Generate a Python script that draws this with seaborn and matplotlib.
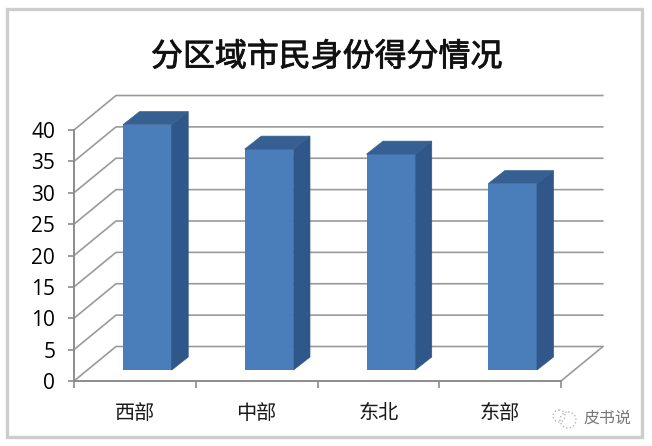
import seaborn as sns
import matplotlib.pyplot as plt
import matplotlib.patheffects as pe
from matplotlib.patches import Circle, Polygon, Rectangle

# values
regions = ['西部', '中部', '东北', '东部']
scores = [39.1, 35.2, 34.4, 29.7]
y_ticks = [0, 5, 10, 15, 20, 25, 30, 35, 40]
title = '分区域市民身份得分情况'

W, H = 652, 446
GRID = '#9a9a9a'
AXIS = '#8c8c8c'
FRONT = '#4a7ebb'
SIDE = '#30578a'
TOP = '#376092'

sns.set_theme(style='white')
plt.rcParams['font.family'] = ['Noto Sans CJK SC', 'DejaVu Sans']


def box(left, right, top, bottom):
    # pixel box of the picture -> figure fraction
    return [left / W, 1 - bottom / H, (right - left) / W, (bottom - top) / H]


fig = plt.figure(figsize=(W / 100, H / 100), dpi=100, facecolor='white')

# frame and watermark, in picture pixels
deco = fig.add_axes([0, 0, 1, 1])
deco.set_xlim(0, W)
deco.set_ylim(H, 0)
deco.axis('off')
deco.add_patch(Rectangle((7, 9), 635, 428, fill=False, ec='#cdcdcd', lw=2.4))
# regular is too thin and bold too heavy, so thicken regular a bit
deco.text(327, 57, title, ha='center', va='center', fontsize=23, color='#111111',
          path_effects=[pe.withStroke(linewidth=0.6, foreground='#111111')])
deco.add_patch(Circle((568, 420), 8, fill=False, ec='#b5b5b5', lw=1, ls=':'))
deco.add_patch(Circle((559, 416), 6, fill=False, ec='#b5b5b5', lw=1, ls=':'))
deco.text(608, 418, '皮书说', ha='center', va='center', fontsize=11.5,
          color='#777777', style='italic')

# front plane of the chart, floor edge and value axis live here
ax = fig.add_axes(box(74, 561, 130, 381))
ax.patch.set_alpha(0)
ax.set_xlim(-0.5, 3.5)
ax.set_ylim(0, 40)

# depth of the walls, in data units
wall_dx = 42 / 121.75
wall_dy = 34.5 / 6.275

for v in y_ticks:
    ax.plot([-0.5, -0.5 + wall_dx, 3.5 + wall_dx],
            [v, v + wall_dy, v + wall_dy],
            color=GRID, lw=1.2, clip_on=False, zorder=1)
ax.plot([3.5, 3.5 + wall_dx], [0, wall_dy], color=GRID, lw=1.2, clip_on=False, zorder=1)

sns.despine(ax=ax, top=True, right=True)
for side in ['left', 'bottom']:
    ax.spines[side].set_color(AXIS)
    ax.spines[side].set_linewidth(1.4)

ax.set_yticks(y_ticks)
ax.set_yticklabels(y_ticks, fontsize=15, family=['Open Sans', 'DejaVu Sans'], color='#000000')
ax.tick_params(axis='y', left=True, length=4.5, width=1.2, color=AXIS, pad=9)
ax.set_xticks(range(len(regions)))
ax.set_xticklabels(regions, fontsize=14.5, color='#1a1a1a')
ax.set_xticks([-0.5, 0.5, 1.5, 2.5, 3.5], minor=True)
ax.tick_params(axis='x', which='major', bottom=False, pad=10)
ax.tick_params(axis='x', which='minor', bottom=True, length=5, width=1.2, color=AXIS)

# bars stand a little behind the front plane, same scales
bar_ax = fig.add_axes(box(74 + 12.5, 561 + 12.5, 130 - 11, 381 - 11))
bar_ax.patch.set_alpha(0)
sns.barplot(x=regions, y=scores, color=FRONT, saturation=1, width=0.4, linewidth=0, ax=bar_ax)
bar_ax.set_xlim(-0.5, 3.5)
bar_ax.set_ylim(0, 40)
bar_ax.axis('off')

depth_x = 16.5 / 121.75
depth_y = 13 / 6.275
for bar in list(bar_ax.patches):
    x0 = bar.get_x()
    x1 = x0 + bar.get_width()
    h = bar.get_height()
    bar_ax.add_patch(Polygon([(x1, 0), (x1 + depth_x, depth_y), (x1 + depth_x, h + depth_y), (x1, h)],
                             fc=SIDE, ec=SIDE, lw=0.5, clip_on=False))
    bar_ax.add_patch(Polygon([(x0, h), (x0 + depth_x, h + depth_y), (x1 + depth_x, h + depth_y), (x1, h)],
                             fc=TOP, ec=TOP, lw=0.5, clip_on=False))

plt.savefig('out.png', dpi=100, facecolor='white')
plt.close()
